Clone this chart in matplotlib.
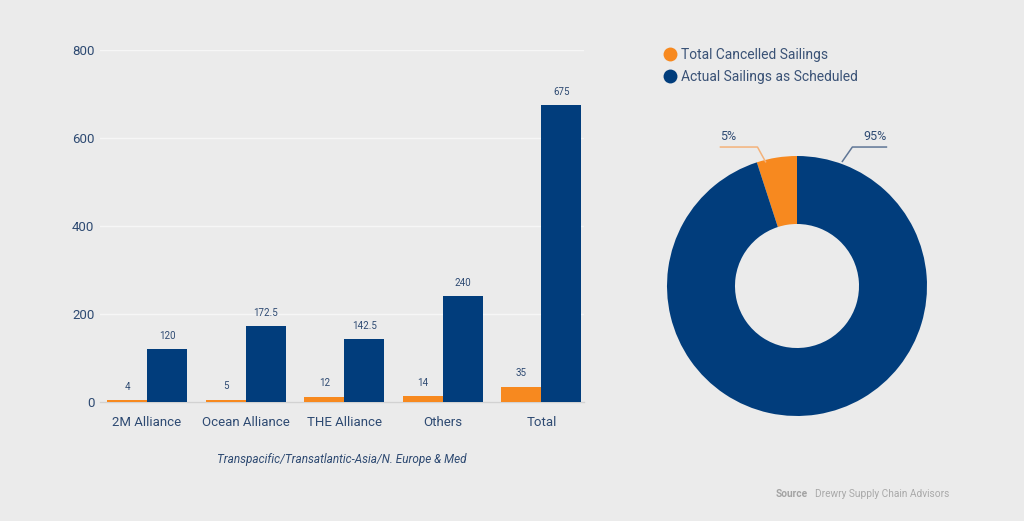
import numpy as np
import matplotlib
matplotlib.use("Agg")
import matplotlib.pyplot as plt
from matplotlib.lines import Line2D

# ---------------- data ----------------
categories = ["2M Alliance", "Ocean Alliance", "THE Alliance", "Others", "Total"]
cancelled = [4, 5, 12, 14, 35]
scheduled = [120, 172.5, 142.5, 240, 675]
cancelled_labels = ["4", "5", "12", "14", "35"]
scheduled_labels = ["120", "172.5", "142.5", "240", "675"]
yticks = [0, 200, 400, 600, 800]

pie_labels = ["Total Cancelled Sailings", "Actual Sailings as Scheduled"]
pie_values = [5, 95]
pie_pct = ["5%", "95%"]

xlabel = "Transpacific/Transatlantic-Asia/N. Europe & Med"
source_bold = "Source"
source_text = "Drewry Supply Chain Advisors"

# ---------------- style ----------------
BG = "#ebebeb"
ORANGE = "#f7891f"
NAVY = "#013d7c"
TXT = "#2e4a72"
GRID = "#f6f6f6"

plt.rcParams["font.family"] = ["Roboto", "DejaVu Sans"]

W, H = 1024, 521
fig = plt.figure(figsize=(W / 100, H / 100), dpi=100, facecolor=BG)


def px_box(x0, y0_top, x1, y1_top):
    """pixel box (top-left origin) -> figure fraction rect"""
    return [x0 / W, 1 - y1_top / H, (x1 - x0) / W, (y1_top - y0_top) / H]


# ---------------- bar chart ----------------
ax = fig.add_axes(px_box(100, 50, 584, 402))
ax.set_facecolor(BG)
x = np.arange(len(categories))
bw = 0.405
b1 = ax.bar(x - bw / 2, cancelled, bw, color=ORANGE, zorder=3)
b2 = ax.bar(x + bw / 2, scheduled, bw, color=NAVY, zorder=3)

for rect, lab in zip(b1, cancelled_labels):
    ax.annotate(lab, (rect.get_x() + rect.get_width() / 2, rect.get_height()),
                xytext=(0, 6), textcoords="offset points", ha="center", va="bottom",
                fontsize=7, color=TXT)
for rect, lab in zip(b2, scheduled_labels):
    ax.annotate(lab, (rect.get_x() + rect.get_width() / 2, rect.get_height()),
                xytext=(0, 6), textcoords="offset points", ha="center", va="bottom",
                fontsize=7, color=TXT)

ax.set_xlim(-0.477, 4.432)
ax.set_ylim(0, 800)
ax.set_yticks(yticks)
ax.set_yticklabels([str(v) for v in yticks])
ax.set_xticks(x)
ax.set_xticklabels(categories)
ax.tick_params(axis="both", length=0, colors=TXT, labelsize=9.5)
ax.tick_params(axis="y", pad=4)
ax.tick_params(axis="x", pad=10)
ax.yaxis.grid(True, color=GRID, linewidth=1, zorder=0)
ax.set_axisbelow(True)
for s in ["top", "right", "left"]:
    ax.spines[s].set_visible(False)
ax.spines["bottom"].set_color("#d2d2d2")
ax.spines["bottom"].set_linewidth(1)
ax.set_xlabel(xlabel, fontsize=8.5, style="italic", color=TXT, labelpad=17)

# ---------------- donut ----------------
cx, cy, R = 797, 286, 130
half = 140
pax = fig.add_axes(px_box(cx - half, cy - half, cx + half, cy + half))
pax.set_facecolor(BG)
wedges, _ = pax.pie(pie_values, colors=[ORANGE, NAVY], startangle=90,
                    counterclock=True, radius=1.0,
                    wedgeprops=dict(width=0.523, edgecolor="none"))
lim = half / R
pax.set_xlim(-lim, lim)
pax.set_ylim(-lim, lim)
pax.set_aspect("equal")
pax.axis("off")

# leader lines for percentage labels
w0, w1 = wedges
# orange wedge label (left)
a0 = np.deg2rad(w0.theta1 + 14)
p_start = (np.cos(a0) * 1.0, np.sin(a0) * 0.985)
p_elbow = (p_start[0] - 0.062, 1.069)
p_end = (p_elbow[0] - 0.285, 1.069)
pax.plot([p_start[0], p_elbow[0], p_end[0]], [p_start[1], p_elbow[1], p_end[1]],
         color="#f4b27a", lw=1.1, clip_on=False)
pax.text(p_end[0], p_end[1] + 0.03, pie_pct[0], ha="left", va="bottom",
         fontsize=9, color=TXT)
# navy wedge label (right)
a1 = np.deg2rad(w1.theta2 - 20)
q_start = (np.cos(a1) * 1.02, np.sin(a1) * 1.02)
q_elbow = (q_start[0] + 0.077, 1.069)
q_end = (q_elbow[0] + 0.262, 1.069)
pax.plot([q_start[0], q_elbow[0], q_end[0]], [q_start[1], q_elbow[1], q_end[1]],
         color="#5f7696", lw=1.1, clip_on=False)
pax.text(q_end[0], q_end[1] + 0.03, pie_pct[1], ha="right", va="bottom",
         fontsize=9, color=TXT)

# legend
handles = [Line2D([], [], marker="o", linestyle="none", markersize=10,
                  markerfacecolor=c, markeredgecolor="none") for c in [ORANGE, NAVY]]
fig.legend(handles, pie_labels, loc="upper left",
           bbox_to_anchor=(662 / W, 1 - 48 / H), frameon=False,
           fontsize=10, labelcolor="#3a5276", handletextpad=0.2, labelspacing=0.55,
           borderpad=0, borderaxespad=0, handlelength=1.2)

# source
fig.text(776 / W, 1 - 494 / H, source_bold, fontsize=7.3, fontweight="bold",
         color="#a3a3a3", va="center", ha="left")
fig.text(815 / W, 1 - 494 / H, source_text, fontsize=7.3,
         color="#a9a9a9", va="center", ha="left")

fig.savefig("out.png", dpi=100, facecolor=BG)
